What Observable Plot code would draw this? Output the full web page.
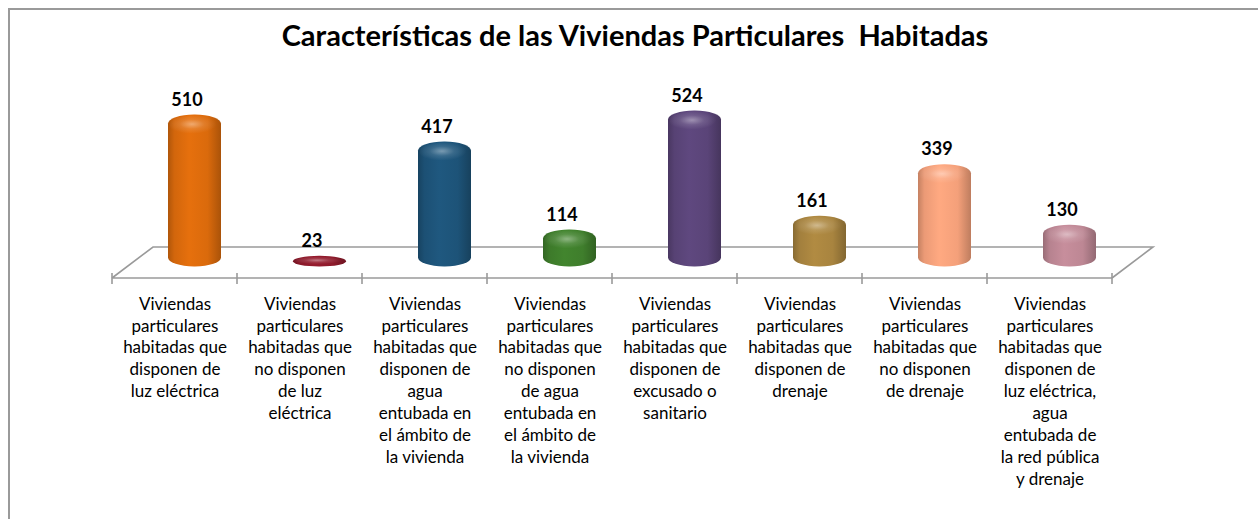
<!DOCTYPE html>
<html><head><meta charset="utf-8">
<script src="https://cdn.jsdelivr.net/npm/d3@7"></script>
<script src="https://cdn.jsdelivr.net/npm/@observablehq/plot@0.6"></script>
<style>
html,body{margin:0;padding:0;background:#fff;overflow:hidden;width:1258px;height:519px;}
#frame{position:absolute;left:8px;top:8px;width:1400px;height:700px;border-left:2px solid #9a9a9a;border-top:2px solid #9a9a9a;}
#title{position:absolute;left:0;top:18px;width:1270px;text-align:center;font:bold 29px Lato, "Open Sans", sans-serif;color:#000;line-height:34px;}
#chart{position:absolute;left:0;top:60px;}
</style></head>
<body>
<div id="frame"></div>
<div id="title">Características de las Viviendas Particulares&nbsp; Habitadas</div>
<div id="chart"></div>
<script>
const categories = [
  "Viviendas\nparticulares\nhabitadas que\ndisponen de\nluz eléctrica",
  "Viviendas\nparticulares\nhabitadas que\nno disponen\nde luz\neléctrica",
  "Viviendas\nparticulares\nhabitadas que\ndisponen de\nagua\nentubada en\nel ámbito de\nla vivienda",
  "Viviendas\nparticulares\nhabitadas que\nno disponen\nde agua\nentubada en\nel ámbito de\nla vivienda",
  "Viviendas\nparticulares\nhabitadas que\ndisponen de\nexcusado o\nsanitario",
  "Viviendas\nparticulares\nhabitadas que\ndisponen de\ndrenaje",
  "Viviendas\nparticulares\nhabitadas que\nno disponen\nde drenaje",
  "Viviendas\nparticulares\nhabitadas que\ndisponen de\nluz eléctrica,\nagua\nentubada de\nla red pública\ny drenaje"
];
const values = [510, 23, 417, 114, 524, 161, 339, 130];
const colors = ["#DA6A0C", "#8E1B2C", "#1D5378", "#3F7E2C", "#5A4478", "#A8843F", "#F4A07A", "#BD8794"];

const data = categories.map((c, i) => ({cat: c, value: values[i], i}));

const floor = (index, scales, vals, dims) => {
  const g = d3.create("svg:g").attr("fill", "none").attr("stroke", "#9a9a9a").attr("stroke-width", 1.6);
  const xL = dims.marginLeft, xR = dims.width - dims.marginRight;
  const y0 = scales.y(0);
  const front = y0 + 15.5, back = y0 - 15.5, depth = 41;
  g.append("path").attr("d",
    `M${xL},${front}L${xR},${front}M${xL},${front}L${xL + depth},${back}L${xR + depth},${back}L${xR},${front}`);
  const n = categories.length, step = (xR - xL) / n;
  for (let k = 0; k <= n; ++k) {
    const x = xL + k * step;
    g.append("line").attr("x1", x).attr("x2", x).attr("y1", front - 5).attr("y2", front + 6);
  }
  return g.node();
};

const marks = [floor];
data.forEach((d) => {
  marks.push(Plot.barY([d], {
    x: "cat", y: "value", fill: `url(#grad${d.i})`,
    dx: 20, insetLeft: 36, insetRight: 36, insetBottom: -4, rx: 26, ry: 9
  }));
  marks.push(Plot.rectY([d], {
    x: "cat", y1: "value", y2: "value", fill: "url(#hl)",
    dx: 20, insetLeft: 38, insetRight: 38, insetTop: 1, insetBottom: -Math.min(20, d.value * 0.29 + 2), rx: 24, ry: 8
  }));
});
marks.push(Plot.text(data, {
  x: "cat", y: "value", text: (d) => String(d.value), dx: 12, dy: -15,
  fontWeight: "bold", fontSize: 18, fill: "#000"
}));
marks.push(Plot.text(data, {
  x: "cat", y: () => 0, text: "cat", dy: 31, lineAnchor: "top", lineHeight: 1.29,
  fontSize: 17, fill: "#000"
}));

const svg = Plot.plot({
  width: 1258, height: 459,
  marginLeft: 112, marginRight: 146, marginTop: 0, marginBottom: 0,
  style: {fontFamily: "Lato, 'Open Sans', sans-serif", background: "transparent", overflow: "visible"},
  x: {domain: categories, padding: 0, axis: null},
  y: {domain: [0, 600], range: [202.5, 28.5], axis: null},
  marks
});

// gradients
const ns = "http://www.w3.org/2000/svg";
const defs = document.createElementNS(ns, "defs");
colors.forEach((c, i) => {
  const lg = document.createElementNS(ns, "linearGradient");
  lg.setAttribute("id", `grad${i}`);
  lg.setAttribute("x1", "0"); lg.setAttribute("x2", "1"); lg.setAttribute("y1", "0"); lg.setAttribute("y2", "0");
  const base = d3.color(c);
  [[0, base.darker(0.6)], [0.12, base.darker(0.1)], [0.4, base.brighter(0.15)], [0.75, base], [1, base.darker(0.7)]].forEach(([o, col]) => {
    const s = document.createElementNS(ns, "stop");
    s.setAttribute("offset", o); s.setAttribute("stop-color", col.formatHex());
    lg.appendChild(s);
  });
  defs.appendChild(lg);
});
const rg = document.createElementNS(ns, "radialGradient");
rg.setAttribute("id", "hl"); rg.setAttribute("cx", "0.45"); rg.setAttribute("cy", "0.45"); rg.setAttribute("r", "0.5");
[[0, "#ffffff", 0.4], [0.5, "#ffffff", 0.12], [1, "#ffffff", 0]].forEach(([o, col, op]) => {
  const s = document.createElementNS(ns, "stop");
  s.setAttribute("offset", o); s.setAttribute("stop-color", col); s.setAttribute("stop-opacity", op);
  rg.appendChild(s);
});
defs.appendChild(rg);
svg.insertBefore(defs, svg.firstChild);

document.getElementById("chart").appendChild(svg);
</script>
</body></html>
